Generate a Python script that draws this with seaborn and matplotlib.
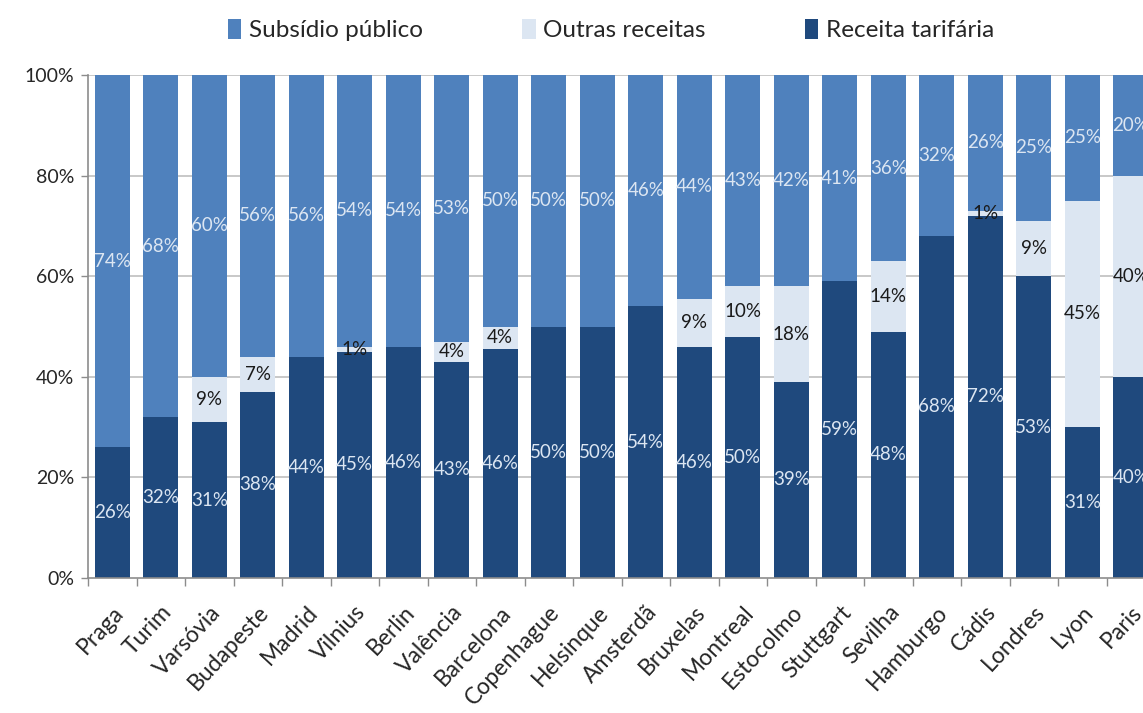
import matplotlib
matplotlib.use("Agg")
import matplotlib.pyplot as plt
import seaborn as sns
import pandas as pd
import numpy as np
from matplotlib.patches import Patch

cidades = ["Praga", "Turim", "Varsóvia", "Budapeste", "Madrid", "Vilnius", "Berlin",
           "Valência", "Barcelona", "Copenhague", "Helsinque", "Amsterdã", "Bruxelas",
           "Montreal", "Estocolmo", "Stuttgart", "Sevilha", "Hamburgo", "Cádis",
           "Londres", "Lyon", "Paris"]

# bar heights as drawn (percent)
receita = [26, 32, 31, 37, 44, 45, 46, 43, 45.5, 50, 50, 54, 46, 48, 39, 59, 49, 68, 72, 60, 30, 40]
outras = [0, 0, 9, 7, 0, 1, 0, 4, 4.5, 0, 0, 0, 9.5, 10, 19, 0, 14, 0, 1, 11, 45, 40]
subsidio = [74, 68, 60, 56, 56, 54, 54, 53, 50, 50, 50, 46, 44.5, 42, 42, 41, 37, 32, 27, 29, 25, 20]

# printed labels
lab_receita = ["26%", "32%", "31%", "38%", "44%", "45%", "46%", "43%", "46%", "50%", "50%",
               "54%", "46%", "50%", "39%", "59%", "48%", "68%", "72%", "53%", "31%", "40%"]
lab_outras = ["", "", "9%", "7%", "", "1%", "", "4%", "4%", "", "", "", "9%", "10%", "18%",
              "", "14%", "", "1%", "9%", "45%", "40%"]
lab_subsidio = ["74%", "68%", "60%", "56%", "56%", "54%", "54%", "53%", "50%", "50%", "50%",
                "46%", "44%", "43%", "42%", "41%", "36%", "32%", "26%", "25%", "25%", "20%"]

series = ["Subsídio público", "Outras receitas", "Receita tarifária"]
cores = {"Subsídio público": "#4F81BD", "Outras receitas": "#DCE6F2", "Receita tarifária": "#1F497D"}

sns.set_theme(style="white")
plt.rcParams["font.family"] = ["Lato", "DejaVu Sans"]

fig = plt.figure(figsize=(11.43, 7.13), dpi=100)
ax = fig.add_axes([88 / 1143, 135 / 713, 1067 / 1143, 503 / 713])

df = pd.DataFrame({"cidade": cidades, "Receita tarifária": receita,
                   "Outras receitas": outras, "Subsídio público": subsidio})
df["b1"] = df["Receita tarifária"]
df["b2"] = df["b1"] + df["Outras receitas"]
df["b3"] = df["b2"] + df["Subsídio público"]

for y in [20, 40, 60, 80, 100]:
    ax.axhline(y, color="#bfbfbf", lw=1.2, zorder=0)

# draw stacked bars from top layer down so the lower ones overlay
for col, serie in [("b3", "Subsídio público"), ("b2", "Outras receitas"), ("b1", "Receita tarifária")]:
    sns.barplot(data=df, x="cidade", y=col, color=cores[serie], width=0.73,
                saturation=1, ax=ax, zorder=2, linewidth=0, edgecolor="none")

x = np.arange(len(cidades))
fs = 13.5
for i in x:
    ax.text(i, df["b1"][i] / 2, lab_receita[i], ha="center", va="center",
            color="#DCE6F2", fontsize=fs, zorder=5)
    if lab_outras[i]:
        ax.text(i, (df["b1"][i] + df["b2"][i]) / 2, lab_outras[i], ha="center", va="center",
                color="#1a1a1a", fontsize=fs, zorder=5)
    ax.text(i, (df["b2"][i] + df["b3"][i]) / 2, lab_subsidio[i], ha="center", va="center",
            color="#DCE6F2", fontsize=fs, zorder=5)

ax.set_xlim(-0.5, len(cidades) - 0.5)
ax.set_ylim(0, 100)
ax.set_yticks([0, 20, 40, 60, 80, 100])
ax.set_yticklabels(["0%", "20%", "40%", "60%", "80%", "100%"], fontsize=14, color="#262626")
ax.set_xlabel("")
ax.set_ylabel("")
ax.set_xticks(x)
ax.set_xticklabels(cidades, rotation=47, ha="right", rotation_mode="anchor", fontsize=16.5,
                   color="#262626")
ax.tick_params(axis="x", length=0, pad=17)
ax.tick_params(axis="y", length=5, color="#8c8c8c", width=1, left=True, pad=5)
ax.set_xticks(np.arange(-0.5, len(cidades), 1), minor=True)
ax.tick_params(axis="x", which="minor", length=6, color="#8c8c8c", width=1, bottom=True)

for s in ["top", "right"]:
    ax.spines[s].set_visible(False)
for s in ["left", "bottom"]:
    ax.spines[s].set_color("#8c8c8c")
    ax.spines[s].set_linewidth(1.2)

handles = [Patch(facecolor=cores[s], edgecolor="none") for s in series]
fig.legend(handles, series, loc="center", bbox_to_anchor=(611 / 1143, 1 - 30 / 713), ncol=3,
           frameon=False, fontsize=17.5, handlelength=0.55, handleheight=0.9,
           handletextpad=0.3, columnspacing=4.1)

fig.savefig("out.png", dpi=100)
